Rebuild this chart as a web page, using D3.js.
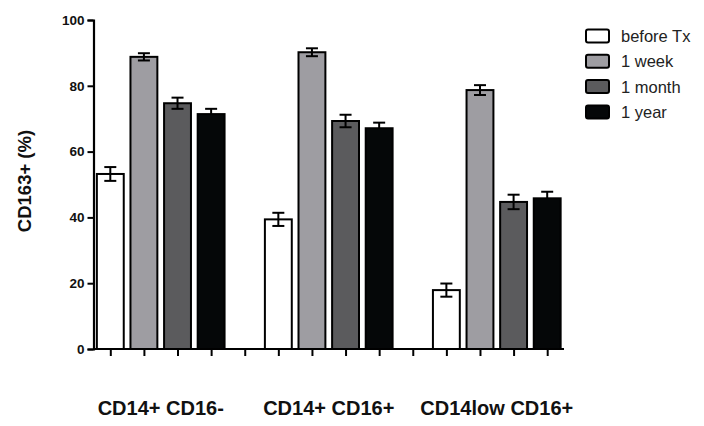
<!DOCTYPE html>
<html><head><meta charset="utf-8">
<script src="https://cdn.jsdelivr.net/npm/d3@7"></script>
<style>body{margin:0;background:#fff}svg{display:block}</style>
</head><body>
<script>
const categories = ["CD14+ CD16-", "CD14+ CD16+", "CD14low CD16+"];
const series = ["before Tx", "1 week", "1 month", "1 year"];
const beforeTx = [53.2, 39.4, 17.9];
const beforeTxErr = [2.1, 2.0, 2.0];
const week1 = [88.8, 90.2, 78.7];
const week1Err = [1.1, 1.2, 1.5];
const month1 = [74.7, 69.3, 44.7];
const month1Err = [1.7, 1.9, 2.2];
const year1 = [71.4, 67.1, 45.8];
const year1Err = [1.6, 1.7, 2.0];
const yTicks = [0, 20, 40, 60, 80, 100];
const colors = ["#ffffff", "#9e9da2", "#5b5b5d", "#050708"];

const values = [beforeTx, week1, month1, year1];
const errs = [beforeTxErr, week1Err, month1Err, year1Err];

const W = 704, H = 426;
const svg = d3.select("body").append("svg").attr("width", W).attr("height", H);
const font = "'Liberation Sans', Arial, sans-serif";

const y = d3.scaleLinear().domain([0, 100]).range([349, 20]);
// 14 slots: 4 bars per group + 1 gap slot between groups
const x = d3.scaleLinear().domain([-0.5, 13.5]).range([93.5, 564]);
const slot = x(1) - x(0);
const bw = slot * 0.8;

const data = [];
categories.forEach((c, ci) => {
  series.forEach((s, si) => {
    data.push({ci, si, v: values[si][ci], e: errs[si][ci], pos: ci * 5 + si});
  });
});

svg.append("g").selectAll("rect").data(data).join("rect")
  .attr("x", d => x(d.pos) - bw / 2)
  .attr("width", bw)
  .attr("y", d => y(d.v))
  .attr("height", d => y(0) - y(d.v))
  .attr("fill", d => colors[d.si])
  .attr("stroke", "#000")
  .attr("stroke-width", 2);

// error bars
const eb = svg.append("g").attr("stroke", "#000").attr("stroke-width", 2);
data.forEach(d => {
  const cx = x(d.pos);
  eb.append("line").attr("x1", cx).attr("x2", cx).attr("y1", y(d.v + d.e)).attr("y2", y(d.v));
  eb.append("line").attr("x1", cx - 6).attr("x2", cx + 6).attr("y1", y(d.v + d.e)).attr("y2", y(d.v + d.e));
  if (d.si !== 3) {
    eb.append("line").attr("x1", cx).attr("x2", cx).attr("y1", y(d.v)).attr("y2", y(d.v - d.e));
    eb.append("line").attr("x1", cx - 6).attr("x2", cx + 6).attr("y1", y(d.v - d.e)).attr("y2", y(d.v - d.e));
  }
});

// y axis
const yAxis = svg.append("g").attr("transform", `translate(${x.range()[0]},0)`)
  .call(d3.axisLeft(y).tickValues(yTicks).tickSize(6).tickPadding(3));
yAxis.select(".domain").attr("stroke-width", 2.2);
yAxis.selectAll(".tick line").attr("stroke-width", 2);
yAxis.selectAll("text").attr("font-family", font).attr("font-weight", "bold").attr("font-size", 13.5).attr("fill", "#111");

// x axis
const xAxis = svg.append("g").attr("transform", `translate(0,${y(0)})`)
  .call(d3.axisBottom(x).tickValues(d3.range(14)).tickSize(7).tickFormat(""));
xAxis.select(".domain").attr("stroke-width", 2.2).attr("d", `M${x.range()[0]},0H${x.range()[1]}`);
xAxis.selectAll(".tick line").attr("stroke-width", 2);

// category labels
svg.append("g").selectAll("text").data(categories).join("text")
  .attr("x", (d, i) => (x(i * 5) + x(i * 5 + 3)) / 2)
  .attr("y", 415)
  .attr("text-anchor", "middle")
  .attr("font-family", font).attr("font-weight", "bold").attr("font-size", 20).attr("fill", "#111")
  .text(d => d);

// y label
svg.append("text")
  .attr("transform", "translate(31,181) rotate(-90)")
  .attr("text-anchor", "middle")
  .attr("font-family", font).attr("font-weight", "bold").attr("font-size", 18.5).attr("fill", "#111")
  .text("CD163+ (%)");

// legend
const lg = svg.append("g");
series.forEach((s, i) => {
  const yy = 36 + i * 25.3;
  lg.append("rect").attr("x", 586).attr("y", yy - 6.5).attr("width", 23).attr("height", 13)
    .attr("rx", 2).attr("fill", colors[i]).attr("stroke", "#000").attr("stroke-width", 2);
  lg.append("text").attr("x", 621).attr("y", yy + 6)
    .attr("font-family", font).attr("font-size", 16.5).attr("fill", "#222").text(s);
});
</script>
</body></html>
